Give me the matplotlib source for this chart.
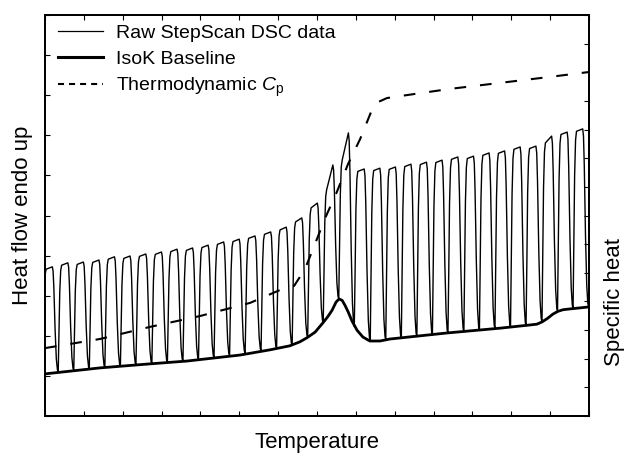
import numpy as np
import matplotlib
matplotlib.use("Agg")
import matplotlib.pyplot as plt
from matplotlib.lines import Line2D

plt.rcParams['font.family'] = ['Liberation Sans', 'DejaVu Sans']
plt.rcParams['mathtext.fontset'] = 'custom'
plt.rcParams['mathtext.rm'] = 'Liberation Sans'
plt.rcParams['mathtext.it'] = 'Liberation Sans:italic'

# temperature of the dips between steps (arbitrary units, axis 0..14)
dip_x = [-0.06, 0.34, 0.74, 1.14, 1.54, 1.94, 2.34, 2.75, 3.15, 3.55, 3.95, 4.35,
         4.75, 5.15, 5.56, 5.96, 6.36, 6.76, 7.16, 7.56, 7.96, 8.37, 8.77, 9.17,
         9.57, 9.97, 10.37, 10.78, 11.18, 11.58, 11.98, 12.38, 12.79, 13.19, 13.59, 13.99]
# heat flow at the dips (touching the isoK baseline)
dip_y = [1.05, 1.10, 1.14, 1.18, 1.21, 1.24, 1.28, 1.31, 1.34, 1.37, 1.41, 1.46,
         1.51, 1.57, 1.63, 1.69, 1.76, 1.96, 2.33, 2.92, 2.23, 1.87, 1.90, 1.94,
         1.98, 2.02, 2.06, 2.10, 2.14, 2.18, 2.21, 2.25, 2.35, 2.62, 2.68, 2.72]
# heat flow at start and end of each heating plateau
top_start = [3.66, 3.76, 3.78, 3.83, 3.91, 3.93, 3.98, 4.03, 4.10, 4.13, 4.20, 4.28,
             4.35, 4.43, 4.53, 4.64, 4.84, 5.19, 5.64, 6.38, 6.10, 6.12, 6.15, 6.22,
             6.27, 6.32, 6.40, 6.42, 6.50, 6.55, 6.65, 6.67, 6.81, 7.02, 7.10]
top_end = [3.72, 3.82, 3.84, 3.89, 3.97, 3.99, 4.04, 4.09, 4.16, 4.19, 4.26, 4.34,
           4.41, 4.49, 4.59, 4.71, 4.94, 5.31, 6.26, 7.06, 6.16, 6.18, 6.21, 6.28,
           6.33, 6.38, 6.46, 6.48, 6.56, 6.61, 6.71, 6.73, 6.98, 7.08, 7.16]

# IsoK baseline
base_x = [0.0, 1.42, 2.70, 3.65, 5.02, 5.79, 6.30, 6.56, 6.74, 6.95, 7.15, 7.28,
          7.39, 7.49, 7.57, 7.65, 7.72, 7.80, 7.90, 8.03, 8.18, 8.36, 8.62, 8.88,
          10.34, 11.71, 12.48, 12.66, 12.80, 12.94, 13.07, 13.20, 13.33, 13.51, 14.0]
base_y = [1.05, 1.20, 1.30, 1.37, 1.52, 1.65, 1.75, 1.85, 1.95, 2.09, 2.32, 2.48,
          2.64, 2.84, 2.92, 2.88, 2.76, 2.60, 2.37, 2.14, 1.97, 1.87, 1.87, 1.92,
          2.07, 2.19, 2.27, 2.29, 2.35, 2.44, 2.54, 2.61, 2.65, 2.67, 2.72]

# thermodynamic Cp (right axis, 0..14)
cp_x = [0.0, 1.42, 2.70, 3.99, 5.28, 6.05, 6.41, 6.69, 6.95, 7.21, 7.51, 7.80,
        8.11, 8.39, 8.57, 8.80, 9.14, 10.42, 11.71, 13.00, 14.0]
cp_y = [2.37, 2.69, 3.11, 3.49, 3.95, 4.40, 4.54, 5.13, 6.01, 6.91, 7.82, 8.80,
        9.67, 10.61, 10.96, 11.10, 11.17, 11.42, 11.63, 11.84, 12.01]

# shape of one step within a period
rise_f = [0.0, 0.05, 0.10, 0.16, 0.22]
rise_v = [0.0, 0.35, 0.75, 0.95, 1.0]
fall_f = [0.62, 0.67, 0.72, 0.80, 0.88, 0.95]
fall_v = [1.0, 0.96, 0.80, 0.40, 0.12, 0.02]

raw_x, raw_y = [], []
for k in range(len(top_end)):
    x0, x1 = dip_x[k], dip_x[k + 1]
    w = x1 - x0
    for f, v in zip(rise_f, rise_v):
        raw_x.append(x0 + f * w)
        raw_y.append(dip_y[k] + v * (top_start[k] - dip_y[k]))
    for f, v in zip(fall_f, fall_v):
        raw_x.append(x0 + f * w)
        raw_y.append(dip_y[k + 1] + v * (top_end[k] - dip_y[k + 1]))
raw_x.append(dip_x[-1])
raw_y.append(dip_y[-1])

fig = plt.figure(figsize=(6.25, 4.59), dpi=100)
ax = fig.add_axes([0.072, 0.0937, 0.8704, 0.8736])
ax2 = ax.twinx()

ax.plot(raw_x, raw_y, color='k', lw=1.0, zorder=2)
ax.plot(base_x, base_y, color='k', lw=2.0, zorder=3)
ax2.plot(cp_x, cp_y, color='k', lw=1.5, dashes=(5.6, 6.7))

ax.set_xlim(0, 14)
ax.set_ylim(0, 10)
ax2.set_ylim(0, 14)
ax.set_xticks(np.arange(0, 15))
ax.set_yticks(np.arange(0, 11))
ax2.set_yticks(np.arange(0, 15))
ax.tick_params(direction='in', top=True, right=False, labelbottom=False,
               labelleft=False, length=3.5, width=0.8)
ax2.tick_params(direction='in', labelright=False, length=3.5, width=0.8)
for a in (ax, ax2):
    for s in a.spines.values():
        s.set_linewidth(1.3)

ax.set_xlabel('Temperature', fontsize=16)
ax.xaxis.set_label_coords(0.5, -0.04)
ax.set_ylabel('Heat flow endo up', fontsize=16)
ax.yaxis.set_label_coords(-0.022, 0.5)
ax2.set_ylabel('Specific heat', fontsize=16)
ax2.yaxis.set_label_coords(1.028, 0.284)

handles = [Line2D([], [], color='k', lw=0.9),
           Line2D([], [], color='k', lw=2.2),
           Line2D([], [], color='k', lw=1.5, dashes=(2.9, 2.4))]
labels = ['Raw StepScan DSC data', 'IsoK Baseline',
          r'Thermodynamic $\mathit{C}_{\mathrm{p}}$']
ax2.legend(handles, labels, loc='upper left', frameon=False, fontsize=14,
           bbox_to_anchor=(0.024, 0.977), borderaxespad=0, borderpad=0,
           handlelength=2.3, handletextpad=0.66, labelspacing=0.42)

fig.savefig('out.png', dpi=100)
